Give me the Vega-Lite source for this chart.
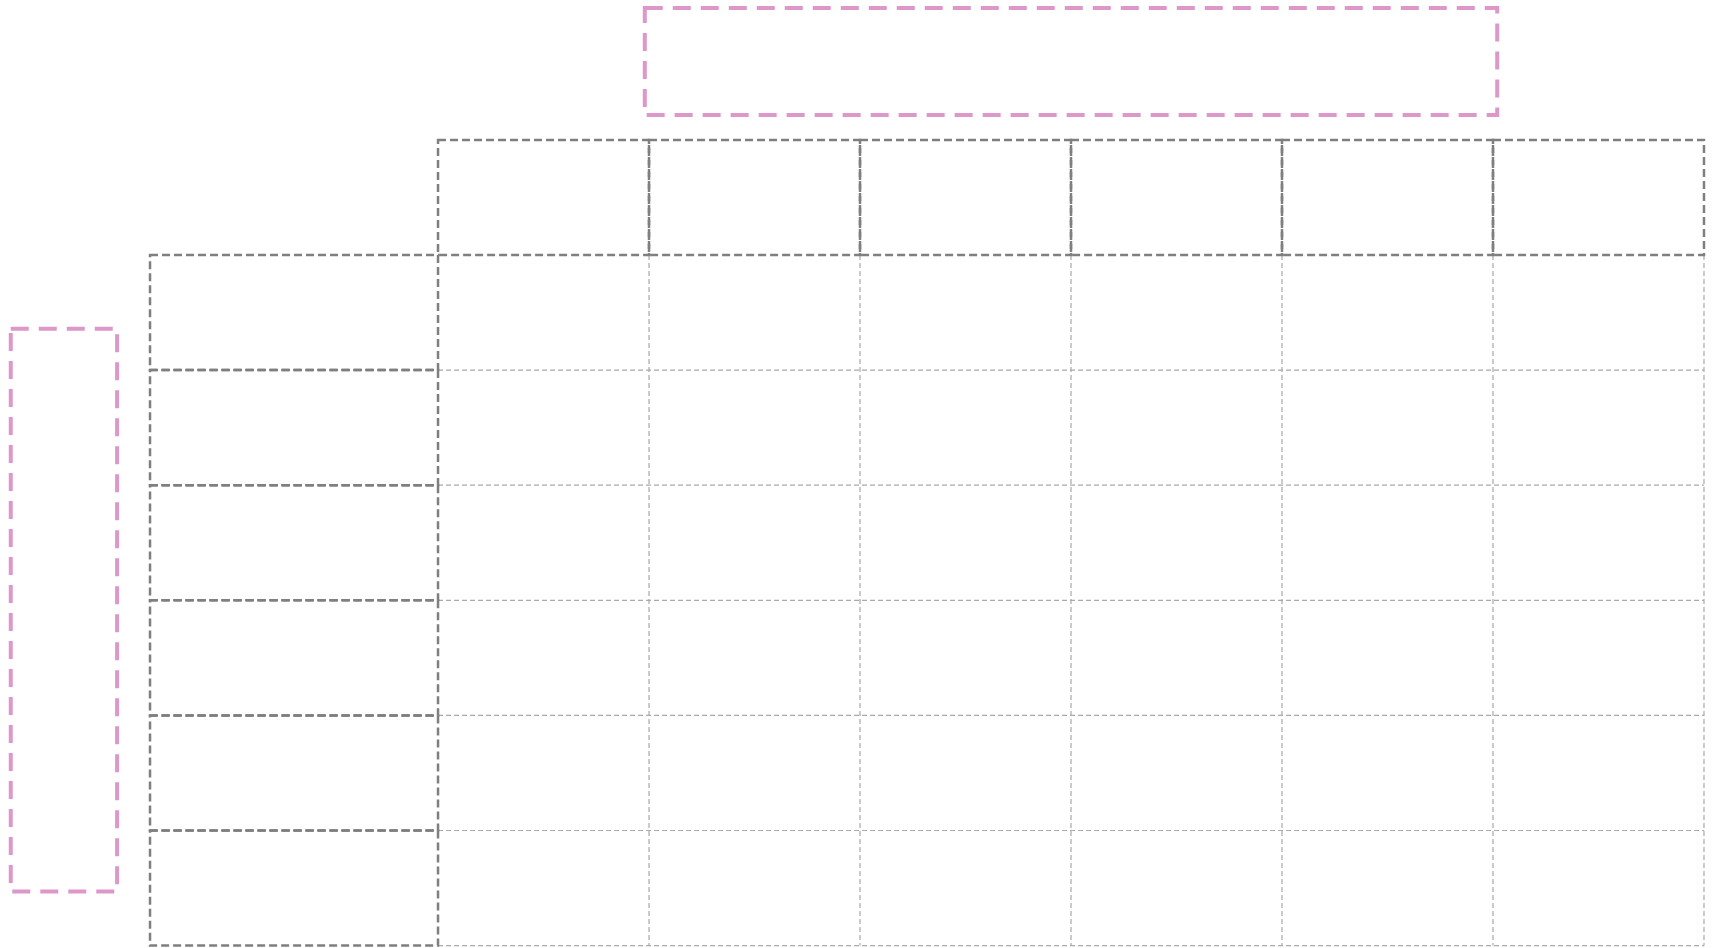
{
  "$schema": "https://vega.github.io/schema/vega-lite/v6.json",
  "width": 1712,
  "height": 948,
  "autosize": {"type": "fit", "contains": "padding"},
  "padding": 0,
  "background": "white",
  "config": {"view": {"stroke": null}},
  "datasets": {
    "grid": [
      {"c0": 0, "c1": 6, "r0": 1, "r1": 1},
      {"c0": 0, "c1": 6, "r0": 2, "r1": 2},
      {"c0": 0, "c1": 6, "r0": 3, "r1": 3},
      {"c0": 0, "c1": 6, "r0": 4, "r1": 4},
      {"c0": 0, "c1": 6, "r0": 5, "r1": 5},
      {"c0": 0, "c1": 6, "r0": 6, "r1": 6},
      {"c0": 1, "c1": 1, "r0": 0, "r1": 6},
      {"c0": 2, "c1": 2, "r0": 0, "r1": 6},
      {"c0": 3, "c1": 3, "r0": 0, "r1": 6},
      {"c0": 4, "c1": 4, "r0": 0, "r1": 6},
      {"c0": 5, "c1": 5, "r0": 0, "r1": 6},
      {"c0": 6, "c1": 6, "r0": 0, "r1": 6}
    ],
    "boxes": [
      {"kind": "header", "c0": 0, "c1": 1, "r0": -1, "r1": 0},
      {"kind": "header", "c0": 1, "c1": 2, "r0": -1, "r1": 0},
      {"kind": "header", "c0": 2, "c1": 3, "r0": -1, "r1": 0},
      {"kind": "header", "c0": 3, "c1": 4, "r0": -1, "r1": 0},
      {"kind": "header", "c0": 4, "c1": 5, "r0": -1, "r1": 0},
      {"kind": "header", "c0": 5, "c1": 6, "r0": -1, "r1": 0},
      {"kind": "header", "c0": -1.365, "c1": 0, "r0": 0, "r1": 1},
      {"kind": "header", "c0": -1.365, "c1": 0, "r0": 1, "r1": 2},
      {"kind": "header", "c0": -1.365, "c1": 0, "r0": 2, "r1": 3},
      {"kind": "header", "c0": -1.365, "c1": 0, "r0": 3, "r1": 4},
      {"kind": "header", "c0": -1.365, "c1": 0, "r0": 4, "r1": 5},
      {"kind": "header", "c0": -1.365, "c1": 0, "r0": 5, "r1": 6},
      {"kind": "title", "c0": 0.98, "c1": 5.02, "r0": -2.146, "r1": -1.216},
      {"kind": "title", "c0": -2.025, "c1": -1.521, "r0": 0.64, "r1": 5.53}
    ]
  },
  "encoding": {
    "x": {"field": "c0", "type": "quantitative", "axis": null, "scale": {"domain": [-2.076, 6.038], "nice": false, "zero": false}},
    "x2": {"field": "c1"},
    "y": {"field": "r0", "type": "quantitative", "axis": null, "scale": {"domain": [-2.2155, 6.021], "nice": false, "zero": false, "reverse": true}},
    "y2": {"field": "r1"}
  },
  "layer": [
    {
      "data": {"name": "grid"},
      "mark": {"type": "rule", "stroke": "#a9a9a9", "strokeWidth": 1.2, "strokeDash": [5, 3]}
    },
    {
      "data": {"name": "boxes"},
      "transform": [{"filter": "datum.kind === 'header'"}],
      "mark": {"type": "rect", "fill": "transparent", "stroke": "#7f7f7f", "strokeWidth": 2.5, "strokeDash": [8, 4]}
    },
    {
      "data": {"name": "boxes"},
      "transform": [{"filter": "datum.kind === 'title'"}],
      "mark": {"type": "rect", "fill": "transparent", "stroke": "#de97c9", "strokeWidth": 4, "strokeDash": [18, 10]}
    }
  ]
}
